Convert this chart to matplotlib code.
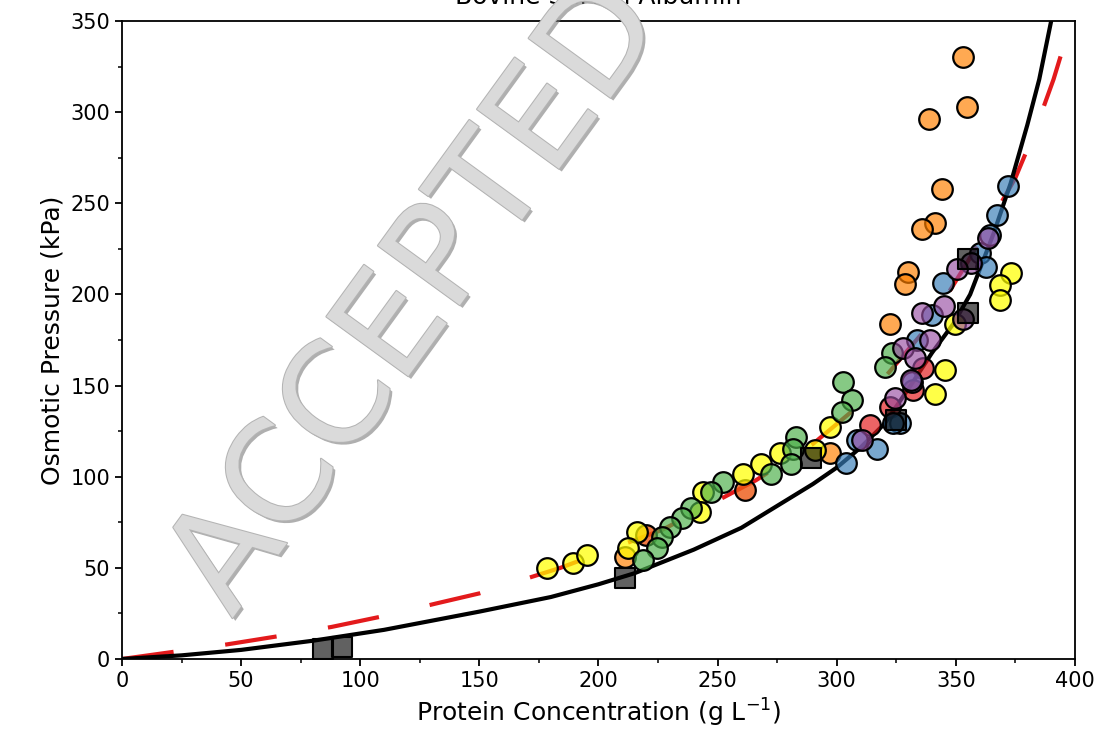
import numpy as np
import matplotlib
matplotlib.use('Agg')
import matplotlib.pyplot as plt
import matplotlib.patheffects as pe
from matplotlib.ticker import MultipleLocator

### Data
# model curves (points along each line)
model_x = [0, 25, 50, 80, 110, 150, 180, 200, 215, 240, 260, 280, 290, 300, 310,
           320, 331, 340, 349, 356, 366, 373, 380, 385, 390]
model_y = [0, 2, 5, 10, 16, 26, 34, 41, 47, 60, 72, 88, 96, 105, 116,
           129, 150, 168, 184, 200, 234, 261, 293, 318, 350]

fit_x = [0, 22, 44, 66, 88, 110, 132, 150, 184, 227, 266, 290, 312, 338, 355,
         375, 383, 391, 398]
fit_y = [0, 4, 8, 12.6, 17.6, 23.6, 30.5, 36, 50, 71, 98, 118, 142, 182, 218,
         264, 289, 318, 348]

# measured data, one list pair per source
orange_x = [353, 354.7, 338.6, 344, 341.4, 335.6, 330, 328.6, 322.3, 297, 211]
orange_y = [330, 302.6, 296, 257.6, 239, 235.7, 212.5, 206, 184, 112.8, 56]

dkorange_x = [261.4, 220]
dkorange_y = [92.7, 68]

yellow_x = [373.3, 368.4, 368.4, 349.6, 345.4, 341.2, 297, 290.8, 276, 268.4, 260.7,
            244, 242.5, 216, 212.5, 178.2, 189.4, 195]
yellow_y = [211.5, 205, 197, 184, 158.5, 145.4, 127.4, 114.6, 112.8, 107, 101.7,
            91.8, 80.8, 69.8, 60.7, 49.7, 52.8, 57]

green_x = [323, 320.2, 302.7, 306.2, 302, 283, 281.7, 281, 272.6, 252.4, 247.4, 239,
           234.9, 230, 226.5, 224.4, 218.8]
green_y = [167.7, 160.3, 152, 142, 135.7, 122, 115, 107, 101.7, 97.3, 91.8, 82.7,
           77.2, 72.6, 67, 60.7, 54.3]

red_x = [336.3, 332, 322.3, 313.9]
red_y = [159.4, 147.6, 138.4, 128.3]

blue_x = [371.9, 367.4, 364.5, 360, 362.6, 344.4, 339.8, 333.5, 331.4, 326.5, 323.7,
          316.7, 304, 308.3]
blue_y = [259.5, 243.5, 232.6, 223, 215, 206.4, 188.7, 175, 152, 129.5, 129.3,
          115.4, 107.4, 120]

purple_x = [363.5, 356.3, 350.3, 345, 335.6, 353, 339, 327.9, 332.8, 324.4, 310.4, 331]
purple_y = [231, 217.4, 214, 193.5, 189.6, 186.8, 175, 170.4, 165, 143, 120, 153]

square_x = [84.4, 92.2, 211, 289.4, 325, 355, 355]
square_y = [5.5, 6.8, 44.3, 110, 131, 190, 219.6]

series = [
    (orange_x, orange_y, (1.0, 0.5, 0.0, 0.68)),
    (dkorange_x, dkorange_y, (0.93, 0.35, 0.08, 0.8)),
    (yellow_x, yellow_y, (1.0, 1.0, 0.0, 0.72)),
    (green_x, green_y, (0.30, 0.69, 0.29, 0.68)),
    (red_x, red_y, (0.89, 0.10, 0.11, 0.68)),
    (blue_x, blue_y, (0.22, 0.49, 0.72, 0.68)),
    (purple_x, purple_y, (0.60, 0.31, 0.64, 0.65)),
]

### Figure
fig = plt.figure(figsize=(11.03, 7.51), dpi=100)
ax = fig.add_axes([0.1106, 0.1225, 0.864, 0.8495])

ax.plot(fit_x, fit_y, color='#e31a1c', lw=3, dashes=(12.5, 12.5), zorder=1)
ax.plot(model_x, model_y, color='black', lw=3, zorder=2)

for xs, ys, c in series:
    ax.scatter(xs, ys, s=220, facecolors=[c], edgecolors='black', linewidths=1.6, zorder=3)

ax.scatter(square_x, square_y, marker='s', s=220, facecolors=[(0, 0, 0, 0.62)],
           edgecolors='black', linewidths=1.5, zorder=4)

ax.set_xlim(0, 400)
ax.set_ylim(0, 350)
ax.xaxis.set_major_locator(MultipleLocator(50))
ax.xaxis.set_minor_locator(MultipleLocator(25))
ax.yaxis.set_major_locator(MultipleLocator(50))
ax.yaxis.set_minor_locator(MultipleLocator(25))
ax.tick_params(which='major', labelsize=15, length=5, width=1.3)
ax.tick_params(which='minor', length=3, width=1.1)
for sp in ax.spines.values():
    sp.set_linewidth(1.3)

ax.set_xlabel('Protein Concentration (g L$^{-1}$)', fontsize=18)
ax.set_ylabel('Osmotic Pressure (kPa)', fontsize=18)
ax.set_title('Bovine Serum Albumin', fontsize=18, pad=12)

# watermark
ax.text(124, 198, 'ACCEPTED', fontsize=100, color='#dadada', rotation=54,
        ha='center', va='center', rotation_mode='anchor', zorder=10,
        path_effects=[pe.SimplePatchShadow(offset=(2, -2), shadow_rgbFace='#7a7a7a', alpha=0.6),
                      pe.Stroke(linewidth=1.5, foreground='#b4b4b4'), pe.Normal()])

fig.savefig('out.png', dpi=100)
